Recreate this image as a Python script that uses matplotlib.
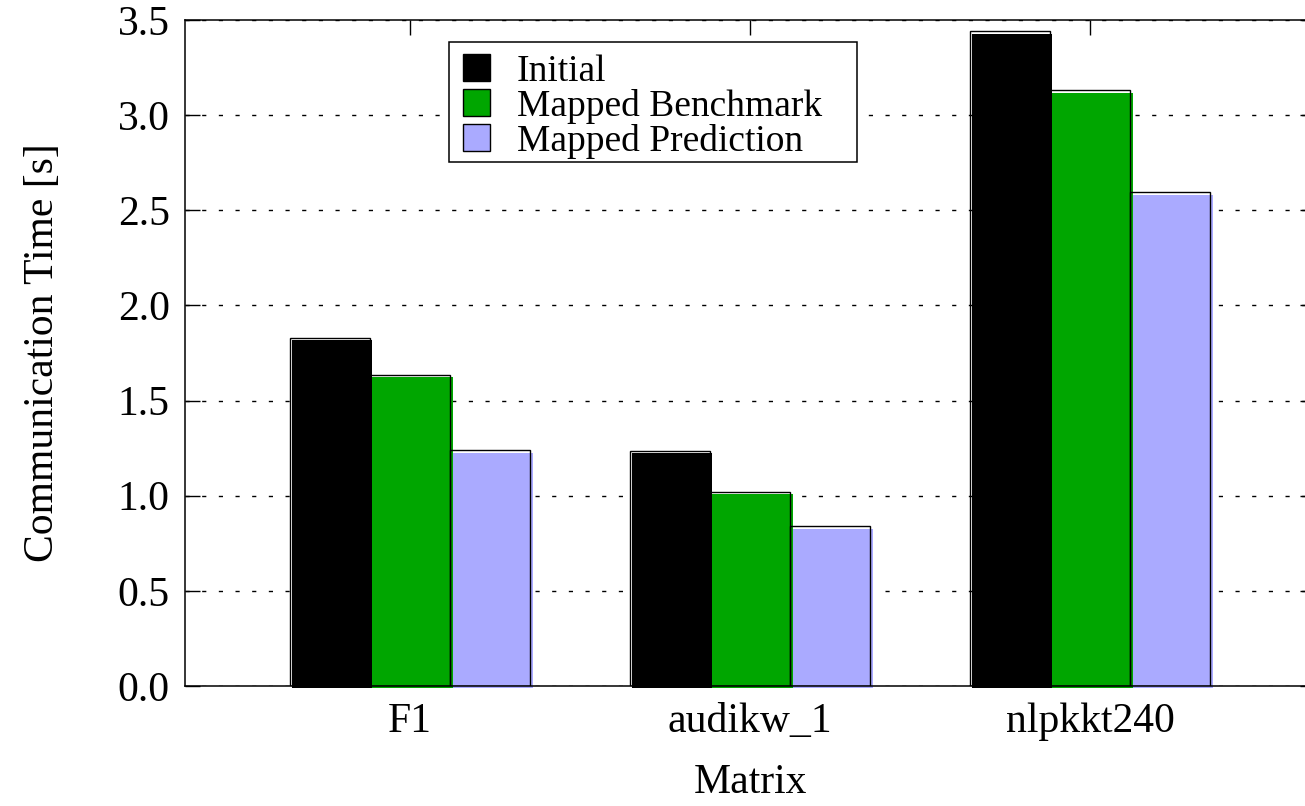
import numpy as np
import matplotlib
matplotlib.use("Agg")
import matplotlib.pyplot as plt
from matplotlib.patches import Patch, Rectangle
from matplotlib.transforms import offset_copy

# data
matrices = ["F1", "audikw_1", "nlpkkt240"]
initial = [1.83, 1.235, 3.44]
mapped_benchmark = [1.635, 1.02, 3.13]
mapped_prediction = [1.24, 0.84, 2.595]
series_names = ["Initial", "Mapped Benchmark", "Mapped Prediction"]
colors = ["#000000", "#00a600", "#aaaaff"]
y_ticks = [0.0, 0.5, 1.0, 1.5, 2.0, 2.5, 3.0, 3.5]

plt.rcParams["font.family"] = ["Liberation Serif", "DejaVu Serif"]
plt.rcParams["font.size"] = 30

fig = plt.figure(figsize=(13.05, 8.06), dpi=100)
ax = fig.add_axes([0.1418, 0.1489, 0.8659, 0.8263])

x = np.arange(len(matrices))
width = 0.236
shadow = offset_copy(ax.transData, fig=fig, x=2.5, y=-2.5, units="dots")

for i, (vals, c) in enumerate(zip([initial, mapped_benchmark, mapped_prediction], colors)):
    pos = x + (i - 1) * width
    # filled part, shifted a little like the gnuplot output
    ax.bar(pos, vals, width, color=c, edgecolor="none", transform=shadow,
           zorder=2, clip_on=False)
    # outline at the true position
    ax.bar(pos, vals, width, facecolor="none", edgecolor="black",
           linewidth=1.0, zorder=3)

ax.set_xlim(-0.662, 2.662)
ax.set_ylim(0, 3.5)
ax.set_yticks(y_ticks)
ax.set_yticklabels([f"{v:.1f}" for v in y_ticks])
ax.set_xticks(x)
ax.set_xticklabels(matrices)

ax.tick_params(axis="both", direction="in", length=11, width=1.0,
               top=True, right=True)
ax.tick_params(axis="y", pad=11)
ax.tick_params(axis="x", pad=12)

ax.yaxis.grid(True, color="black", linewidth=1.0, dashes=(3, 9))
ax.set_axisbelow(True)
for s in ax.spines.values():
    s.set_linewidth(1.1)

ax.set_ylabel("Communication Time [s]", labelpad=40)
ax.set_xlabel("Matrix", labelpad=16)

# legend: entries without frame, box drawn separately so it can be wider
handles = [Patch(facecolor=c, edgecolor="black", linewidth=1.0) for c in colors]
leg = ax.legend(handles, series_names, loc="upper left",
                bbox_to_anchor=(0.238, 0.9625), frameon=False,
                labelspacing=0.0, fontsize=27,
                handlelength=0.72, handleheight=0.72, handletextpad=0.7,
                borderpad=0.25, borderaxespad=0)
leg.set_zorder(6)
ax.add_patch(Rectangle((0.2336, 0.7868), 0.3611, 0.1802, transform=ax.transAxes,
                       facecolor="white", edgecolor="black", linewidth=1.1,
                       zorder=5))

fig.savefig("out.png", dpi=100)
